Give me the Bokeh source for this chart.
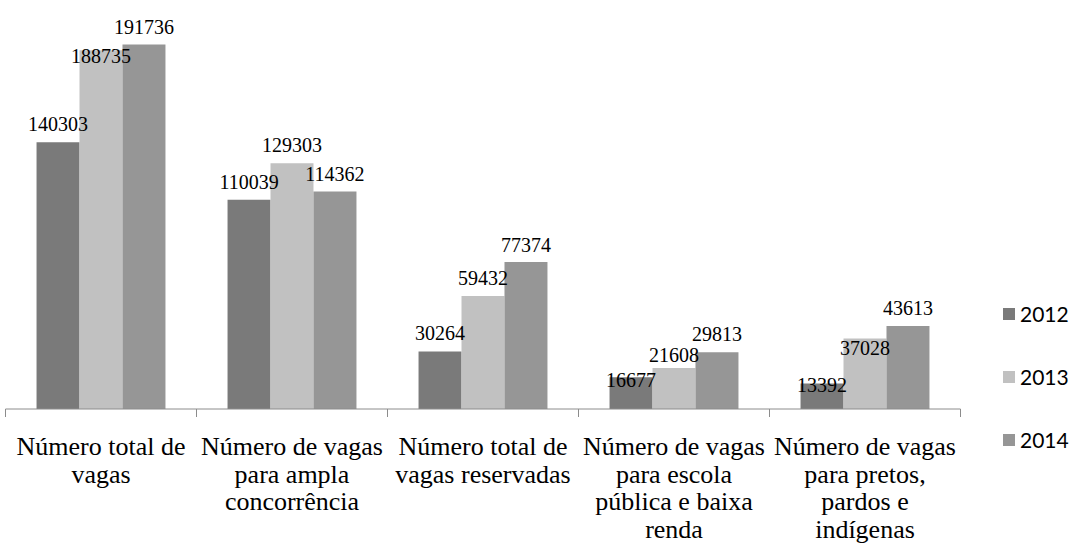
import math
from bokeh.plotting import figure
from bokeh.models import Range1d, Legend, LegendItem, ColumnDataSource
from bokeh.core.properties import value
from bokeh.embed import file_html
from bokeh.resources import INLINE

categories = [
    "Número total de\nvagas",
    "Número de vagas\npara ampla\nconcorrência",
    "Número total de\nvagas reservadas",
    "Número de vagas\npara escola\npública e baixa\nrenda",
    "Número de vagas\npara pretos,\npardos e\nindígenas",
]
years = ["2012", "2013", "2014"]
v2012 = [140303, 110039, 30264, 16677, 13392]
v2013 = [188735, 129303, 59432, 21608, 37028]
v2014 = [191736, 114362, 77374, 29813, 43613]
series = [v2012, v2013, v2014]

colors = ["#7a7a7a", "#c1c1c1", "#969696"]
# pixel nudges of the value labels (negative = above the bar top)
label_dy = [[-18, -18, -18, 3, 1], [6, -18, -18, -13, 9], [-18, -18, -17, -18, -18]]

n = len(categories)
bar_w = 0.225
W, H = 1070, 543
cat_px = 191.0          # pixel width of one category slot
left_px = 5.0           # gap between canvas left and first slot
base_px = 408.5         # baseline distance from canvas top
px_per_unit = 0.001901  # pixels per vaga

x0 = -left_px / cat_px
x1 = (W - left_px) / cat_px
y1 = base_px / px_per_unit
y0 = -(H - base_px) / px_per_unit

p = figure(width=W, height=H, x_range=Range1d(x0, x1), y_range=Range1d(y0, y1),
           output_backend="svg", toolbar_location=None,
           x_axis_type=None, y_axis_type=None,
           min_border_left=0, min_border_right=0, min_border_top=0, min_border_bottom=0)
p.outline_line_color = None

renderers = []
sources = []
for j, vals in enumerate(series):
    xs = [i + 0.5 + (j - 1) * bar_w for i in range(n)]
    src = ColumnDataSource(dict(x=xs, top=vals, txt=[str(v) for v in vals], dy=label_dy[j]))
    sources.append(src)
    r = p.vbar(x="x", top="top", bottom=0, width=bar_w, source=src,
               fill_color=colors[j], line_color=None)
    renderers.append(r)
for src in sources:
    p.text(x="x", y="top", text="txt", y_offset="dy", source=src, text_align="center",
           text_baseline="alphabetic", text_font=value("Liberation Serif"),
           text_font_size="20px", text_color="black")

# category axis: baseline, boundary ticks, labels (one text per line)
axis_color = "#8c8c8c"
p.segment(x0=[0], y0=[0], x1=[n], y1=[0], line_color=axis_color, line_width=1)
p.ray(x=list(range(n + 1)), y=[0] * (n + 1), length=8, length_units="screen",
      angle=-math.pi / 2, line_color=axis_color, line_width=1)
lx, lt, ld = [], [], []
for i, cat in enumerate(categories):
    for k, line in enumerate(cat.split("\n")):
        lx.append(i + 0.5)
        lt.append(line)
        ld.append(37.5 + 27.5 * k)
p.text(x=lx, y=[0] * len(lx), text=lt, y_offset=ld, text_align="center",
       text_baseline="alphabetic", text_font=value("Liberation Serif"),
       text_font_size="26px", text_color="black")

legend = Legend(items=[LegendItem(label=y, renderers=[r]) for y, r in zip(years, renderers)],
                location=(1001, 91), orientation="vertical", glyph_width=15, glyph_height=15,
                label_text_font="Lato", label_text_font_size="21px", label_text_color="black",
                label_standoff=4, label_height=26, spacing=37, padding=0, margin=0,
                border_line_color=None, background_fill_alpha=0)
p.add_layout(legend, "center")

open("out.html", "w").write(file_html(p, INLINE))
